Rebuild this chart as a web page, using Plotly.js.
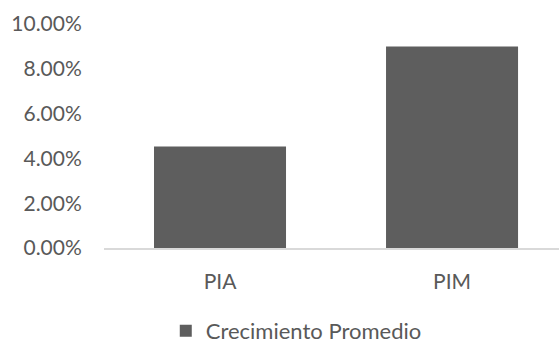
<!DOCTYPE html>
<html>
<head>
<meta charset="utf-8">
<script src="https://cdn.plot.ly/plotly-3.0.1.min.js"></script>
<style>html,body{margin:0;padding:0;background:#fff}#chart{width:559px;height:343px}</style>
</head>
<body>
<div id="chart"></div>
<script>
var categories = ["PIA", "PIM"];
var seriesName = "Crecimiento Promedio";
var values = [0.0453, 0.0900];
var tickVals = [0, 0.02, 0.04, 0.06, 0.08, 0.10];
var tickText = ["0.00%", "2.00%", "4.00%", "6.00%", "8.00%", "10.00%"];

var txt = "#595959";
var fnt = "Lato, 'Open Sans', sans-serif";

var data = [{
  type: "bar",
  x: categories,
  y: values,
  name: seriesName,
  marker: {color: "#5e5e5e"},
  showlegend: true,
  hoverinfo: "skip"
}];

var layout = {
  width: 559, height: 343,
  margin: {l: 104, r: 0, t: 24, b: 95},
  paper_bgcolor: "#fff", plot_bgcolor: "#fff",
  bargap: 0.431,
  font: {family: fnt, size: 21, color: txt},
  xaxis: {
    range: [-0.5, 1.461],
    showgrid: false, zeroline: false,
    showline: true, linecolor: "#d9d9d9", linewidth: 2,
    ticks: "outside", ticklen: 14, tickcolor: "rgba(0,0,0,0)",
    tickfont: {family: fnt, size: 21, color: txt},
    fixedrange: true
  },
  yaxis: {
    range: [0, 0.10],
    tickvals: tickVals, ticktext: tickText,
    showgrid: false, zeroline: false, showline: false,
    ticks: "outside", ticklen: 17, tickcolor: "rgba(0,0,0,0)",
    tickfont: {family: fnt, size: 21, color: txt},
    fixedrange: true
  },
  showlegend: true,
  legend: {
    orientation: "h",
    xref: "container", yref: "container",
    x: 0.53, xanchor: "center",
    y: 0.035, yanchor: "middle",
    font: {family: fnt, size: 22, color: txt},
    itemwidth: 30
  }
};

Plotly.newPlot("chart", data, layout, {displayModeBar: false, staticPlot: true});
</script>
</body>
</html>
